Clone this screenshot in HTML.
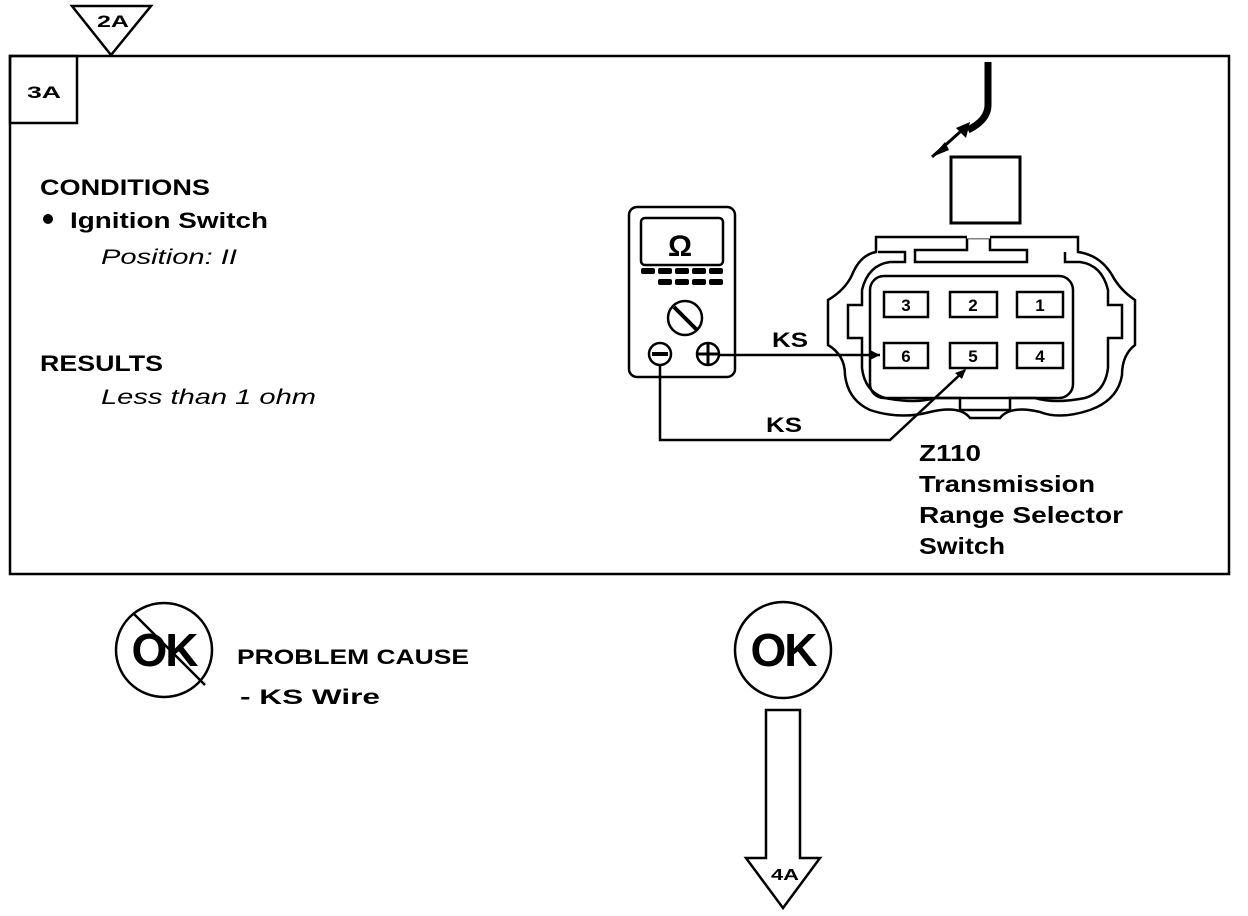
<!DOCTYPE html>
<html><head><meta charset="utf-8"><style>
html,body{margin:0;padding:0;background:#fff;}
svg{display:block;}
text{font-family:"Liberation Sans",Arial,sans-serif;fill:#000;}
.b{font-weight:bold;}
.i{font-style:italic;}
</style></head><body>
<svg width="1248" height="916" viewBox="0 0 1248 916" xmlns="http://www.w3.org/2000/svg">
<g fill="none" stroke="#000" stroke-width="2.5">
<rect x="10" y="56" width="1219" height="518"/>
<rect x="10" y="56" width="67" height="67"/>
<polygon points="72,6 151,6 111,55" fill="#fff"/>
<rect x="629" y="207" width="106" height="170" rx="8"/>
<rect x="641" y="218" width="82" height="47" rx="4"/>
<circle cx="685" cy="318" r="17"/>
<line x1="674" y1="307" x2="697" y2="330" stroke-width="4"/>
<circle cx="660" cy="354" r="11"/>
<line x1="652" y1="354" x2="668" y2="354" stroke-width="4"/>
<circle cx="708" cy="354" r="11"/>
<line x1="697" y1="354" x2="719" y2="354" stroke-width="3"/>
<line x1="708" y1="343" x2="708" y2="365" stroke-width="3"/>
<line x1="719" y1="355" x2="880" y2="355"/>
<polyline points="660,366 660,440 890,440 965,370"/>
<path d="M876,237 H1078 V252 Q1100,255 1112,275 Q1120,290 1135,300 V345 Q1122,355 1122,375 Q1118,400 1090,410 Q1060,420 1040,412 Q1010,405 1000,418 H970 Q960,405 930,412 Q900,420 870,410 Q848,400 845,375 Q845,355 828,345 V300 Q845,290 852,275 Q860,255 876,252 Z"/>
<path d="M878,252 H905 V262 H890 Q868,265 862,290 V305 H848 V338 H862 V368 Q865,392 885,398 Q915,404 935,398 H960 V410 H1010 V398 H1035 Q1055,404 1085,398 Q1105,392 1108,368 V338 H1122 V305 H1108 V290 Q1102,265 1080,262 H1065 V252"/>
<path d="M915,250 H967 V238 H990 V250 H1027 V262 H915 Z"/>
<line x1="967" y1="237" x2="990" y2="237" stroke="#fff" stroke-width="3"/>
<rect x="870" y="276" width="203" height="122" rx="14"/>
<rect x="884" y="292" width="44" height="25"/>
<rect x="950" y="292" width="47" height="25"/>
<rect x="1017" y="292" width="46" height="25"/>
<rect x="884" y="343" width="44" height="25"/>
<rect x="950" y="343" width="47" height="25"/>
<rect x="1017" y="343" width="46" height="25"/>
<rect x="951" y="157" width="69" height="66" stroke-width="3"/>
<path d="M988,62 V105 Q988,120 968,130" stroke-width="7"/>
<ellipse cx="164" cy="650" rx="48" ry="47"/>
<line x1="133" y1="613" x2="205" y2="685"/>
<circle cx="783" cy="650" r="48"/>
<polygon points="766,710 800,710 800,858 820,858 783,908 746,858 766,858"/>
</g>
<g fill="#000">
<polygon points="880,355 870,350 870,360"/>
<polygon points="966,369 955,373 962,379"/>
<polygon points="932,157 945,142 949,150"/>
<line x1="932" y1="157" x2="960" y2="132" stroke="#000" stroke-width="3"/>
<polygon points="956,128 970,122 966,138"/>
<rect x="641" y="268" width="14" height="6" rx="2"/><rect x="658" y="268" width="14" height="6" rx="2"/><rect x="675" y="268" width="14" height="6" rx="2"/><rect x="692" y="268" width="14" height="6" rx="2"/><rect x="709" y="268" width="14" height="6" rx="2"/>
<rect x="658" y="279" width="14" height="6" rx="2"/><rect x="675" y="279" width="14" height="6" rx="2"/><rect x="692" y="279" width="14" height="6" rx="2"/><rect x="709" y="279" width="14" height="6" rx="2"/>
<circle cx="48" cy="219" r="5"/>
</g>
<text x="97" y="27" class="b" font-size="17" textLength="32" lengthAdjust="spacingAndGlyphs">2A</text>
<text x="27" y="98" class="b" font-size="17" textLength="34" lengthAdjust="spacingAndGlyphs">3A</text>
<text x="40" y="195" class="b" font-size="22" textLength="170" lengthAdjust="spacingAndGlyphs">CONDITIONS</text>
<text x="70" y="228" class="b" font-size="22" textLength="198" lengthAdjust="spacingAndGlyphs">Ignition Switch</text>
<text x="101" y="264" class="i" font-size="21" textLength="136" lengthAdjust="spacingAndGlyphs">Position: II</text>
<text x="40" y="371" class="b" font-size="22" textLength="123" lengthAdjust="spacingAndGlyphs">RESULTS</text>
<text x="101" y="404" class="i" font-size="21" textLength="215" lengthAdjust="spacingAndGlyphs">Less than 1 ohm</text>
<text x="668" y="256" class="b" font-size="30">Ω</text>
<text x="772" y="347" class="b" font-size="21" textLength="36" lengthAdjust="spacingAndGlyphs">KS</text>
<text x="766" y="432" class="b" font-size="21" textLength="36" lengthAdjust="spacingAndGlyphs">KS</text>
<g class="b" font-size="17" text-anchor="middle">
<text x="906" y="311">3</text><text x="973" y="311">2</text><text x="1040" y="311">1</text>
<text x="906" y="362">6</text><text x="973" y="362">5</text><text x="1040" y="362">4</text>
</g>
<g class="b" font-size="23">
<text x="919" y="461" textLength="62" lengthAdjust="spacingAndGlyphs">Z110</text>
<text x="919" y="492" textLength="176" lengthAdjust="spacingAndGlyphs">Transmission</text>
<text x="919" y="523" textLength="204" lengthAdjust="spacingAndGlyphs">Range Selector</text>
<text x="919" y="554" textLength="86" lengthAdjust="spacingAndGlyphs">Switch</text>
</g>
<text x="164" y="666" text-anchor="middle" class="b" font-size="46" letter-spacing="-2">OK</text>
<text x="783" y="666" text-anchor="middle" class="b" font-size="46" letter-spacing="-2">OK</text>
<text x="237" y="664" class="b" font-size="21" textLength="232" lengthAdjust="spacingAndGlyphs">PROBLEM CAUSE</text>
<text x="240" y="704" class="b" font-size="21" textLength="140" lengthAdjust="spacingAndGlyphs">- KS  Wire</text>
<text x="771" y="880" class="b" font-size="16" textLength="28" lengthAdjust="spacingAndGlyphs">4A</text>
</svg>
</body></html>
